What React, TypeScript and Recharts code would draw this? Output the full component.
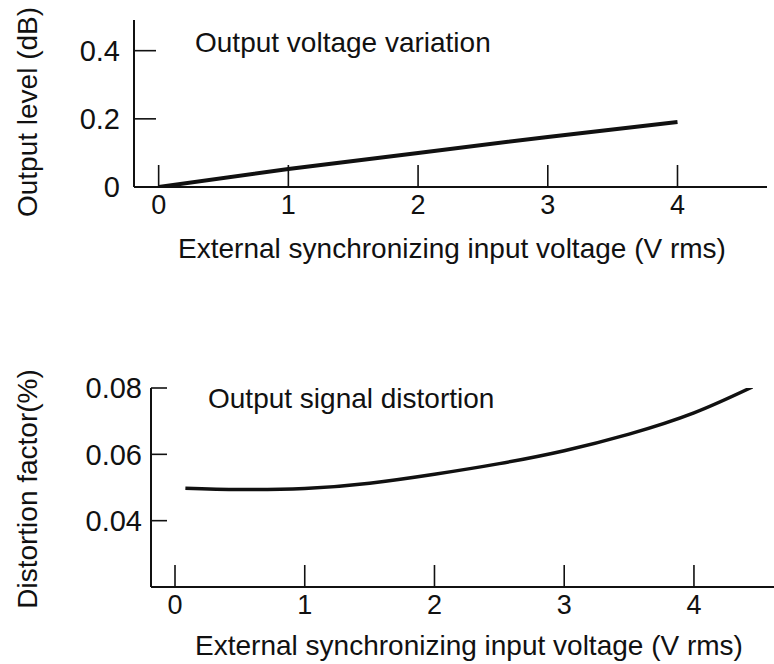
import React from 'react';
import { LineChart, Line, XAxis, YAxis } from 'recharts';

// top panel: output voltage variation
const levelVoltage = [0, 1, 2, 3, 4];
const levelDb = [0, 0.053, 0.1, 0.147, 0.191];
const levelXTicks = [0, 1, 2, 3, 4];
const levelYTicks = [0, 0.2, 0.4];

// bottom panel: output signal distortion
const distVoltage = [0.08, 0.5, 1, 1.5, 2, 2.5, 3, 3.5, 4, 4.45];
const distPercent = [0.0498, 0.0494, 0.0497, 0.0513, 0.054, 0.0572, 0.0611, 0.0661, 0.0725, 0.0803];
const distXTicks = [0, 1, 2, 3, 4];
const distYTicks = [0.04, 0.06, 0.08];

const levelData = levelVoltage.map((v, i) => ({ v, y: levelDb[i] }));
const distData = distVoltage.map((v, i) => ({ v, y: distPercent[i] }));

const FONT = '"Liberation Sans", Arial, Helvetica, sans-serif';
const INK = '#111';
const W = 774;
const H = 664;

const fmtTick = (t: number) => (t === 0 ? '0' : String(t));

export default function App() {
  return (
    <div style={{ position: 'absolute', left: 0, top: 0, width: W, height: H, background: '#fff', fontFamily: FONT }}>
      <div style={{ position: 'absolute', left: 0, top: 0 }}>
        <LineChart width={W} height={H} data={levelData} margin={{ top: 20, right: 7, bottom: 447, left: 0 }}>
          <XAxis
            dataKey="v"
            type="number"
            domain={[-0.19, 4.69]}
            ticks={levelXTicks}
            tickFormatter={fmtTick}
            height={30}
            stroke={INK}
            strokeWidth={2}
            tickSize={-22}
            tickMargin={30}
            tickLine={{ stroke: INK, strokeWidth: 1.6 }}
            tick={{ fill: INK, fontSize: 27, fontFamily: FONT }}
            allowDataOverflow
          />
          <YAxis
            type="number"
            domain={[0, 0.49]}
            ticks={levelYTicks}
            tickFormatter={fmtTick}
            width={134}
            stroke={INK}
            strokeWidth={2}
            tickSize={-22}
            tickMargin={36}
            tickLine={{ stroke: INK, strokeWidth: 1.6 }}
            tick={{ fill: INK, fontSize: 29, fontFamily: FONT }}
            allowDataOverflow
          />
          <Line dataKey="y" type="linear" stroke={INK} strokeWidth={4} dot={false} isAnimationActive={false} />
          <text x={195} y={52} fontSize={28} fill={INK} fontFamily={FONT}>Output voltage variation</text>
          <text x={452} y={258} fontSize={28} fill={INK} fontFamily={FONT} textAnchor="middle">
            External synchronizing input voltage (V rms)
          </text>
          <text x={37} y={112} fontSize={28} fill={INK} fontFamily={FONT} textAnchor="middle" transform="rotate(-90 37 112)">
            Output level (dB)
          </text>
        </LineChart>
      </div>
      <div style={{ position: 'absolute', left: 0, top: 0 }}>
        <LineChart width={W} height={H} data={distData} margin={{ top: 388, right: 0, bottom: 47, left: 0 }}>
          <XAxis
            dataKey="v"
            type="number"
            domain={[-0.185, 4.617]}
            ticks={distXTicks}
            tickFormatter={fmtTick}
            height={30}
            stroke={INK}
            strokeWidth={2}
            tickSize={-22}
            tickMargin={30}
            tickLine={{ stroke: INK, strokeWidth: 1.6 }}
            tick={{ fill: INK, fontSize: 27, fontFamily: FONT }}
            allowDataOverflow
          />
          <YAxis
            type="number"
            domain={[0.02, 0.08]}
            ticks={distYTicks}
            width={151}
            stroke={INK}
            strokeWidth={2}
            tickSize={-16}
            tickMargin={25}
            tickLine={{ stroke: INK, strokeWidth: 1.6 }}
            tick={{ fill: INK, fontSize: 29, fontFamily: FONT }}
            allowDataOverflow
          />
          <Line dataKey="y" type="natural" stroke={INK} strokeWidth={3.5} dot={false} isAnimationActive={false} />
          <text x={208} y={408} fontSize={28} fill={INK} fontFamily={FONT}>Output signal distortion</text>
          <text x={469} y={655} fontSize={28} fill={INK} fontFamily={FONT} textAnchor="middle">
            External synchronizing input voltage (V rms)
          </text>
          <text x={37} y={489} fontSize={28} fill={INK} fontFamily={FONT} textAnchor="middle" transform="rotate(-90 37 489)">
            Distortion factor(%)
          </text>
        </LineChart>
      </div>
    </div>
  );
}
